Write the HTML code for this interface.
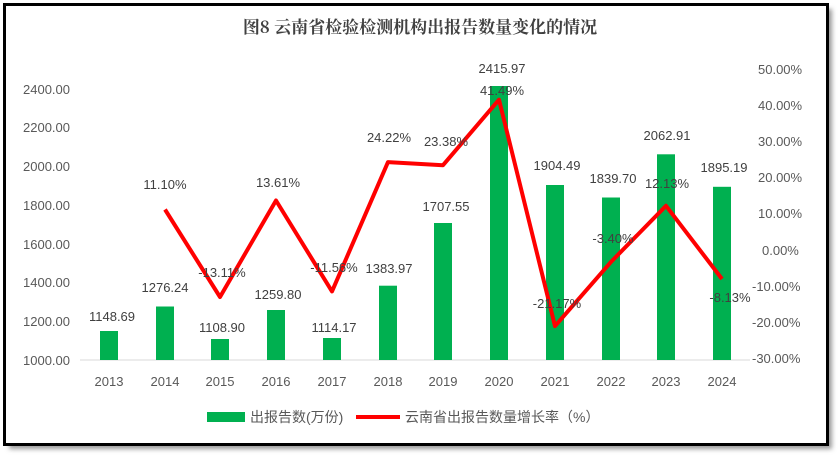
<!DOCTYPE html>
<html><head><meta charset="utf-8"><style>
body{margin:0;background:#fff;}
svg text{font-family:"Liberation Sans","Noto Sans CJK SC",sans-serif;}
</style></head><body>
<svg width="840" height="457" xmlns="http://www.w3.org/2000/svg">
<defs><filter id="sh" x="-5%" y="-5%" width="110%" height="110%"><feGaussianBlur stdDeviation="2.5"/></filter></defs>
<rect x="0" y="0" width="840" height="457" fill="#fff"/>
<rect x="9" y="9" width="823" height="440" fill="#9a9a9a" filter="url(#sh)"/>
<rect x="4.5" y="4.5" width="823" height="440" fill="#fff" stroke="#000" stroke-width="3"/>
<text x="420" y="33" text-anchor="middle" font-size="17" font-weight="bold" fill="#404040" style="font-family:'Noto Serif CJK SC','Liberation Serif',serif">图8  云南省检验检测机构出报告数量变化的情况</text>
<g font-size="13" fill="#595959">
<g text-anchor="end">
<text x="70" y="94">2400.00</text><text x="70" y="132">2200.00</text><text x="70" y="171">2000.00</text><text x="70" y="210">1800.00</text><text x="70" y="249">1600.00</text><text x="70" y="287">1400.00</text><text x="70" y="326">1200.00</text><text x="70" y="365">1000.00</text>
</g>
<g text-anchor="start">
<text x="758" y="74">50.00%</text><text x="758" y="110">40.00%</text><text x="758" y="146">30.00%</text><text x="758" y="182">20.00%</text><text x="758" y="218">10.00%</text><text x="762" y="255">0.00%</text><text x="752" y="291">-10.00%</text><text x="752" y="327">-20.00%</text><text x="752" y="363">-30.00%</text>
</g>
<g text-anchor="middle">
<text x="109" y="386">2013</text><text x="165" y="386">2014</text><text x="220" y="386">2015</text><text x="276" y="386">2016</text><text x="332" y="386">2017</text><text x="388" y="386">2018</text><text x="443" y="386">2019</text><text x="499" y="386">2020</text><text x="555" y="386">2021</text><text x="611" y="386">2022</text><text x="666" y="386">2023</text><text x="722" y="386">2024</text>
</g>
</g>
<line x1="80" y1="360" x2="750" y2="360" stroke="#d9d9d9"/>
<g fill="#00B050">
<rect x="100" y="331" width="18" height="29"/>
<rect x="156" y="306.5" width="18" height="53.5"/>
<rect x="211" y="339" width="18" height="21"/>
<rect x="267" y="310" width="18" height="50"/>
<rect x="323" y="338" width="18" height="22"/>
<rect x="379" y="285.7" width="18" height="74.3"/>
<rect x="434" y="223" width="18" height="137"/>
<rect x="490" y="86" width="18" height="274"/>
<rect x="546" y="185" width="18" height="175"/>
<rect x="602" y="197.5" width="18" height="162.5"/>
<rect x="657" y="154.3" width="18" height="205.7"/>
<rect x="713" y="186.8" width="18" height="173.2"/>
</g>
<polyline fill="none" stroke="#FF0000" stroke-width="4" stroke-linejoin="round" points="165,209.5 220,297 276,200.5 332,291.4 388,162.1 443,165.2 499,99.7 555,326.1 611,261.9 666,205.8 722,279"/>
<g font-size="13" fill="#404040" text-anchor="middle">
<text x="112" y="321">1148.69</text><text x="165" y="292">1276.24</text><text x="222" y="332">1108.90</text><text x="278" y="299">1259.80</text><text x="334" y="332">1114.17</text><text x="389" y="273">1383.97</text><text x="446" y="211">1707.55</text><text x="502" y="73">2415.97</text><text x="557" y="170">1904.49</text><text x="613" y="183">1839.70</text><text x="667" y="140">2062.91</text><text x="724" y="172">1895.19</text>
<text x="165" y="189">11.10%</text><text x="222" y="277">-13.11%</text><text x="278" y="187">13.61%</text><text x="334" y="272">-11.56%</text><text x="389" y="142">24.22%</text><text x="446" y="146">23.38%</text><text x="502" y="95">41.49%</text><text x="557" y="308">-21.17%</text><text x="613" y="243">-3.40%</text><text x="667" y="188">12.13%</text><text x="730" y="302">-8.13%</text>
</g>
<rect x="207" y="412" width="38" height="10" fill="#00B050"/>
<text x="250" y="422" font-size="14" fill="#595959">出报告数(万份)</text>
<line x1="356" y1="417" x2="400" y2="417" stroke="#FF0000" stroke-width="4"/>
<text x="405" y="422" font-size="14" fill="#595959">云南省出报告数量增长率（%）</text>
</svg>
</body></html>
